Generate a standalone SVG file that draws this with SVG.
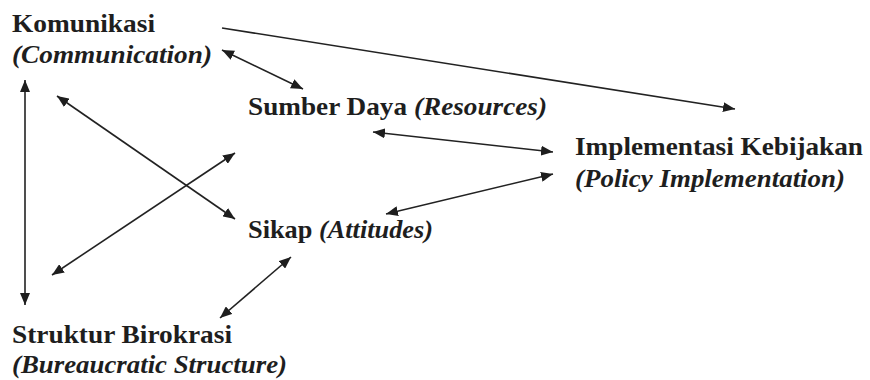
<svg xmlns="http://www.w3.org/2000/svg" width="870" height="380" viewBox="0 0 870 380">
<defs>
<style>
.it{font-style:italic}
.c line{stroke:#222;stroke-width:1.6;fill:none}
.d{marker-start:url(#ah);marker-end:url(#ah)}
.s{marker-end:url(#ah)}
</style>
<marker id="ah" viewBox="0 0 12 10" refX="12" refY="5" markerWidth="12" markerHeight="10" markerUnits="userSpaceOnUse" orient="auto-start-reverse">
<path d="M0,0 L12,5 L0,10 z" fill="#1e1e1e"/>
</marker>
</defs>
<rect width="870" height="380" fill="#fff"/>
<g font-family="Liberation Serif, serif" font-size="26" font-weight="bold" fill="#1e1e1e">
<g id="komunikasi">
<text x="12" y="32" textLength="143" lengthAdjust="spacingAndGlyphs">Komunikasi</text>
<text x="12" y="63" class="it" textLength="200" lengthAdjust="spacingAndGlyphs">(Communication)</text>
</g>
<g id="sumber-daya">
<text x="248" y="115" textLength="299" lengthAdjust="spacingAndGlyphs">Sumber Daya <tspan class="it">(Resources)</tspan></text>
</g>
<g id="implementasi">
<text x="575" y="155" textLength="288" lengthAdjust="spacingAndGlyphs">Implementasi Kebijakan</text>
<text x="575" y="187" class="it" textLength="270" lengthAdjust="spacingAndGlyphs">(Policy Implementation)</text>
</g>
<g id="sikap">
<text x="248" y="238" textLength="185" lengthAdjust="spacingAndGlyphs">Sikap <tspan class="it">(Attitudes)</tspan></text>
</g>
<g id="struktur">
<text x="12" y="343" textLength="220" lengthAdjust="spacingAndGlyphs">Struktur Birokrasi</text>
<text x="12" y="373" class="it" textLength="275" lengthAdjust="spacingAndGlyphs">(Bureaucratic Structure)</text>
</g>
</g>
<g class="c" id="connectors">
<line class="s" x1="222" y1="28" x2="735" y2="109"/>
<line class="d" x1="222" y1="50" x2="303" y2="89"/>
<line class="d" x1="25" y1="80" x2="25" y2="305"/>
<line class="d" x1="57" y1="96" x2="235" y2="219"/>
<line class="d" x1="235" y1="153" x2="52" y2="275"/>
<line class="d" x1="373" y1="132" x2="553" y2="152"/>
<line class="d" x1="386" y1="214" x2="553" y2="174"/>
<line class="d" x1="291" y1="257" x2="220" y2="318"/>
</g>
</svg>
